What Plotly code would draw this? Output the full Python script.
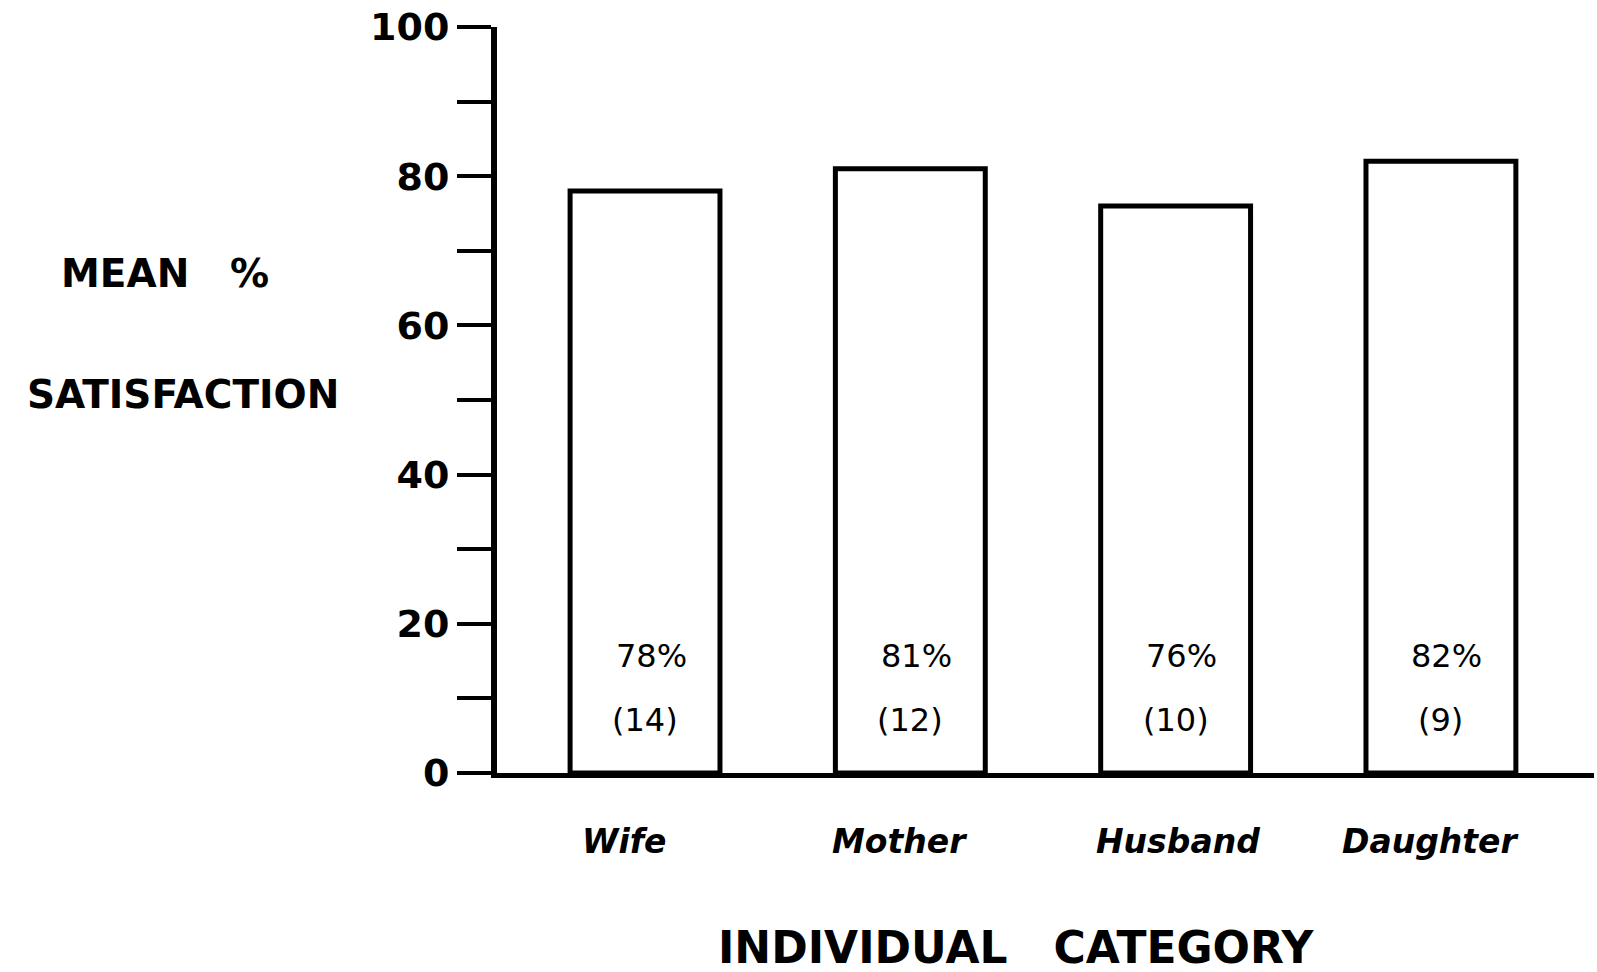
import plotly.graph_objects as go

categories = ["Wife", "Mother", "Husband", "Daughter"]
mean_satisfaction = [78, 81, 76, 82]
counts = [14, 12, 10, 9]
y_tick_values = [0, 20, 40, 60, 80, 100]
y_tick_labels = ["0", "20", "40", "60", "80", "100"]

W, H = 1597, 972
left, right, top, bottom = 497, 3, 27, 199
plot_w = W - left - right
plot_h = H - top - bottom
base_y = 773  # window y of the x axis
label_xshift = [-21, -11, 2, -11]


def px_x(x):
    return (x - left) / plot_w


def px_y(y):
    return (base_y - y) / plot_h


fig = go.Figure()
fig.add_trace(go.Bar(
    x=categories, y=mean_satisfaction, width=0.565,
    marker=dict(color="white", line=dict(color="black", width=5)),
    hoverinfo="skip", showlegend=False,
))

annotations = []
for cat, v, n, dx in zip(categories, mean_satisfaction, counts, label_xshift):
    annotations.append(dict(x=cat, y=0, xref="x", yref="y", text=f"{v}%",
                            showarrow=False, yanchor="middle", yshift=117, xshift=6,
                            font=dict(family="DejaVu Sans", size=32, color="black")))
    annotations.append(dict(x=cat, y=0, xref="x", yref="y", text=f"({n})",
                            showarrow=False, yanchor="middle", yshift=53,
                            font=dict(family="DejaVu Sans", size=32, color="black")))
    annotations.append(dict(x=cat, y=px_y(841), xref="x", yref="paper", text=cat,
                            showarrow=False, yanchor="middle", xshift=dx,
                            font=dict(family="DejaVu Sans", size=33, color="black",
                                      style="italic", weight="bold")))

annotations.append(dict(x=px_x(165), y=px_y(273),
                        xref="paper", yref="paper", text="MEAN   %", showarrow=False,
                        xanchor="center", yanchor="middle",
                        font=dict(family="DejaVu Sans", size=39, color="black", weight="bold")))
annotations.append(dict(x=px_x(183), y=px_y(394),
                        xref="paper", yref="paper", text="SATISFACTION", showarrow=False,
                        xanchor="center", yanchor="middle",
                        font=dict(family="DejaVu Sans", size=39, color="black", weight="bold")))
annotations.append(dict(x=px_x(1016), y=px_y(947),
                        xref="paper", yref="paper", text="INDIVIDUAL   CATEGORY", showarrow=False,
                        xanchor="center", yanchor="middle",
                        font=dict(family="DejaVu Sans", size=44, color="black", weight="bold")))

fig.update_layout(
    width=W, height=H,
    margin=dict(l=left, r=right, t=top, b=bottom, autoexpand=False),
    paper_bgcolor="white", plot_bgcolor="white",
    font=dict(family="DejaVu Sans", color="black"),
    annotations=annotations,
    bargap=0.4,
    hovermode=False,
)
fig.update_xaxes(
    type="category", range=[-0.558, 3.577],
    showline=True, linecolor="black", linewidth=5,
    showticklabels=False, ticks="", showgrid=False, zeroline=False,
)
fig.update_yaxes(
    range=[0, 100], tickvals=y_tick_values, ticktext=y_tick_labels,
    showline=True, linecolor="black", linewidth=6,
    ticks="outside", ticklen=34, tickwidth=4, tickcolor="black",
    minor=dict(dtick=10, tick0=0, ticks="outside", ticklen=34, tickwidth=4, tickcolor="black"),
    tickfont=dict(family="DejaVu Sans", size=38, color="black", weight="bold"),
    ticklabeloverflow="allow",
    showgrid=False, zeroline=False,
)

fig.write_html("out.html",
               config={"displayModeBar": False, "staticPlot": True},
               post_script="document.body.style.margin='0';document.body.style.overflow='hidden';")
